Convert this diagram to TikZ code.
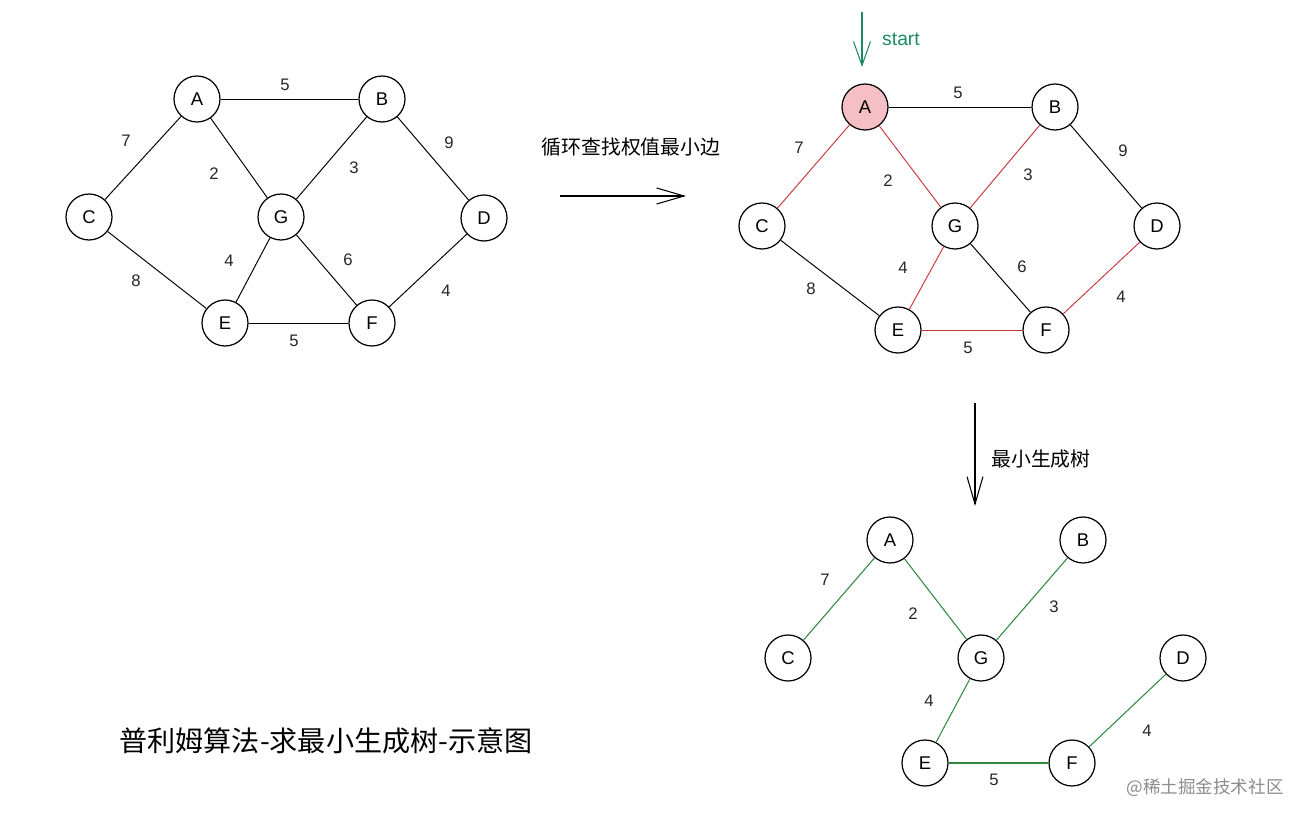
\documentclass[tikz,border=0pt]{standalone}
\usepackage{fontspec}
\setmainfont{Liberation Sans}
\newfontfamily\cjk{Noto Sans CJK SC}
\usetikzlibrary{arrows.meta}
\definecolor{edgered}{HTML}{C8383C}
\definecolor{nodepink}{HTML}{F6BFC6}
\definecolor{treegreen}{HTML}{2F8A3E}
\definecolor{startgreen}{HTML}{1E8A62}

\begin{document}
\begin{tikzpicture}[
    x=0.02cm, y=-0.02cm,
    every node/.style={font=\fontsize{10.5}{12}\selectfont},
    vertex/.style={circle, draw, line width=0.7pt, minimum size=0.92cm, inner sep=0pt},
    weight/.style={font=\fontsize{9.5}{11}\selectfont, text=black!85},
    edge/.style={line width=0.55pt},
    redge/.style={line width=0.55pt, edgered},
    gedge/.style={line width=0.6pt, treegreen},
    bigarrow/.style={-{Straight Barb[length=5.5mm, width=3.2mm]}, line width=0.6pt},
    cjklabel/.style={font=\cjk\fontsize{11.3}{13}\selectfont}
]
\useasboundingbox (0,0) rectangle (1308,820);

% ---- left graph ----
\node[vertex] (lA) at (197,99) {A};
\node[vertex] (lB) at (382,99) {B};
\node[vertex] (lC) at (89,217) {C};
\node[vertex] (lG) at (281,217) {G};
\node[vertex] (lD) at (484,218) {D};
\node[vertex] (lE) at (225,323) {E};
\node[vertex] (lF) at (372,323) {F};

\draw[edge] (lA) -- (lB);
\draw[edge] (lA) -- (lC);
\draw[edge] (lA) -- (lG);
\draw[edge] (lB) -- (lG);
\draw[edge] (lB) -- (lD);
\draw[edge] (lC) -- (lE);
\draw[edge] (lG) -- (lE);
\draw[edge] (lG) -- (lF);
\draw[edge] (lD) -- (lF);
\draw[edge] (lE) -- (lF);

\node[weight] (lwab) at (285,85) {5};
\node[weight] (lwac) at (126,141) {7};
\node[weight] (lwag) at (214,174) {2};
\node[weight] (lwbg) at (354,168) {3};
\node[weight] (lwbd) at (449,143) {9};
\node[weight] (lwge) at (229,261) {4};
\node[weight] (lwgf) at (348,260) {6};
\node[weight] (lwce) at (136,281) {8};
\node[weight] (lwdf) at (446,291) {4};
\node[weight] (lwef) at (294,341) {5};

% ---- step arrow ----
\coordinate (stepfrom) at (560,196);
\coordinate (stepto) at (686,196);
\draw[bigarrow] (stepfrom) -- (stepto);
\node[cjklabel] (steplabel) at (631,147) {循环查找权值最小边};

% ---- middle graph: search from A ----
\node[vertex, fill=nodepink] (mA) at (865,107) {A};
\node[vertex] (mB) at (1055,107) {B};
\node[vertex] (mC) at (762,226) {C};
\node[vertex] (mG) at (955,226) {G};
\node[vertex] (mD) at (1157,226) {D};
\node[vertex] (mE) at (898,330) {E};
\node[vertex] (mF) at (1046,330) {F};

\coordinate (startfrom) at (862,12);
\coordinate (startto) at (862,67);
\draw[-{Straight Barb[length=4.8mm, width=3.4mm]}, line width=0.6pt, startgreen]
  (startfrom) -- (startto);
\node[text=startgreen, font=\fontsize{11}{13}\selectfont] (startlabel) at (901,39) {start};

\draw[edge] (mA) -- (mB);
\draw[redge] (mA) -- (mC);
\draw[redge] (mA) -- (mG);
\draw[redge] (mB) -- (mG);
\draw[edge] (mB) -- (mD);
\draw[edge] (mC) -- (mE);
\draw[redge] (mG) -- (mE);
\draw[edge] (mG) -- (mF);
\draw[redge] (mD) -- (mF);
\draw[redge] (mE) -- (mF);

\node[weight] (mwab) at (958,93) {5};
\node[weight] (mwac) at (799,148) {7};
\node[weight] (mwag) at (888,181) {2};
\node[weight] (mwbg) at (1028,175) {3};
\node[weight] (mwbd) at (1123,151) {9};
\node[weight] (mwge) at (903,268) {4};
\node[weight] (mwgf) at (1022,267) {6};
\node[weight] (mwce) at (811,289) {8};
\node[weight] (mwdf) at (1121,297) {4};
\node[weight] (mwef) at (968,348) {5};

% ---- result arrow ----
\coordinate (treefrom) at (975,403);
\coordinate (treeto) at (975,506);
\draw[bigarrow] (treefrom) -- (treeto);
\node[cjklabel] (treelabel) at (1041,459) {最小生成树};

% ---- bottom graph: spanning tree ----
\node[vertex] (bA) at (890,540) {A};
\node[vertex] (bB) at (1083,540) {B};
\node[vertex] (bC) at (788,658) {C};
\node[vertex] (bG) at (981,658) {G};
\node[vertex] (bD) at (1183,658) {D};
\node[vertex] (bE) at (925,763) {E};
\node[vertex] (bF) at (1072,763) {F};

\draw[gedge] (bA) -- (bC);
\draw[gedge] (bA) -- (bG);
\draw[gedge] (bB) -- (bG);
\draw[gedge] (bG) -- (bE);
\draw[gedge] (bE) -- (bF);
\draw[gedge] (bD) -- (bF);

\node[weight] (bwac) at (825,580) {7};
\node[weight] (bwag) at (913,614) {2};
\node[weight] (bwbg) at (1054,607) {3};
\node[weight] (bwge) at (929,701) {4};
\node[weight] (bwdf) at (1147,731) {4};
\node[weight] (bwef) at (994,780) {5};

% ---- captions ----
\node[font=\cjk\fontsize{16}{19}\selectfont] (title) at (326,741) {普利姆算法-求最小生成树-示意图};
\node[font=\cjk\fontsize{10}{12}\selectfont, text=black!45] (mark) at (1205,788) {@稀土掘金技术社区};
\end{tikzpicture}
\end{document}
